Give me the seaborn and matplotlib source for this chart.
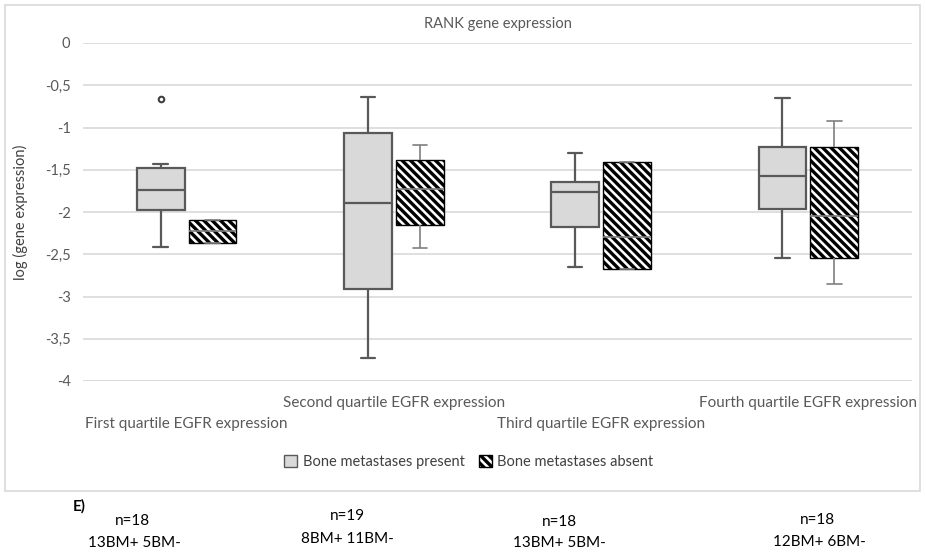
import numpy as np
import pandas as pd
import matplotlib
matplotlib.use("Agg")
import matplotlib.pyplot as plt
from matplotlib.patches import Patch, Rectangle
import seaborn as sns

# ---- data -------------------------------------------------------------
categories = ["First quartile EGFR expression", "Second quartile EGFR expression",
              "Third quartile EGFR expression", "Fourth quartile EGFR expression"]
groups = ["Bone metastases present", "Bone metastases absent"]

# five-number summaries per EGFR quartile (whisker low, Q1, median, Q3, whisker high)
present_lo = [-2.41, -3.73, -2.65, -2.54]
present_q1 = [-1.98, -2.91, -2.18, -1.97]
present_med = [-1.74, -1.89, -1.76, -1.57]
present_q3 = [-1.48, -1.07, -1.64, -1.23]
present_hi = [-1.43, -0.64, -1.30, -0.65]

absent_lo = [-2.37, -2.43, -2.67, -2.85]
absent_q1 = [-2.37, -2.15, -2.67, -2.55]
absent_med = [-2.22, -1.73, -2.30, -2.05]
absent_q3 = [-2.09, -1.39, -1.41, -1.23]
absent_hi = [-2.09, -1.21, -1.41, -0.92]

# outliers of the "present" group per quartile
present_outliers = [[-0.66], [], [], []]

yticks = [0, -0.5, -1, -1.5, -2, -2.5, -3, -3.5, -4]
ytick_labels = ["0", "-0,5", "-1", "-1,5", "-2", "-2,5", "-3", "-3,5", "-4"]

n_labels = ["n=18", "n=19", "n=18", "n=18"]
bm_labels = ["13BM+ 5BM-", "8BM+ 11BM-", "13BM+ 5BM-", "12BM+ 6BM-"]

# ---- long table: the five summary values of each box --------------------
summaries = {
    groups[0]: (present_lo, present_q1, present_med, present_q3, present_hi),
    groups[1]: (absent_lo, absent_q1, absent_med, absent_q3, absent_hi),
}
rows = []
for grp, cols in summaries.items():
    for i, cat in enumerate(categories):
        for v in (c[i] for c in cols):
            rows.append({"quartile": cat, "group": grp, "value": v})
df = pd.DataFrame(rows)

# ---- style --------------------------------------------------------------
sns.set_theme(style="white")
FONT = ["Lato", "DejaVu Sans"]
plt.rcParams["font.family"] = FONT
plt.rcParams["hatch.linewidth"] = 2.4

W, H = 926, 552
fig = plt.figure(figsize=(W / 100, H / 100), dpi=100)
ax = fig.add_axes([83 / W, 1 - 381 / H, (912 - 83) / W, (381 - 43) / H])

GRAY_FILL = "#d9d9d9"
EDGE = "#595959"
BOX_WIDTH = 0.5
HATCH = "\\\\\\\\"
palette = {groups[0]: GRAY_FILL, groups[1]: "white"}

sns.boxplot(data=df, x="quartile", y="value", hue="group",
            order=categories, hue_order=groups, palette=palette,
            saturation=1, width=BOX_WIDTH, gap=0.08, whis=(0, 100),
            linecolor=EDGE, linewidth=1.6, capwidths=0.07,
            legend=False, ax=ax, zorder=3)

# hatched boxes for the "absent" group
for p in ax.patches:
    fc = p.get_facecolor()
    if fc[0] > 0.95 and fc[1] > 0.95 and fc[2] > 0.95:
        p.set_hatch(HATCH)
        p.set_edgecolor("black")
        p.set_linewidth(1.0)

# thinner grey lines for the "absent" whiskers / medians
for ln in ax.lines:
    xd = np.asarray(ln.get_xdata(), dtype=float)
    if xd.size and (np.mean(xd) - np.round(np.mean(xd))) > 0:
        ln.set_color("#7f7f7f")
        ln.set_linewidth(1.2)

# outliers
offset = BOX_WIDTH / 4
for i, outs in enumerate(present_outliers):
    if outs:
        ax.scatter([i - offset] * len(outs), outs, s=16, facecolor="white",
                   edgecolor="#404040", linewidth=1.5, zorder=4)

# axes
ax.set_ylim(-4, 0)
ax.set_xlim(-0.5, len(categories) - 0.5)
ax.set_yticks(yticks)
ax.set_yticklabels(ytick_labels)
ax.yaxis.grid(True, color="#d9d9d9", linewidth=1.2, zorder=0)
ax.xaxis.grid(False)
for s in ax.spines.values():
    s.set_visible(False)
ax.axhline(-4, color="#d9d9d9", linewidth=1.2, zorder=1)
ax.tick_params(axis="y", length=0, pad=9, labelsize=10.5, labelcolor=EDGE)
ax.tick_params(axis="x", length=0, labelsize=11, labelcolor=EDGE)
ax.set_xlabel("")
ax.set_ylabel("log (gene expression)", fontsize=10.5, color="#404040", labelpad=12)
for i, tick in enumerate(ax.xaxis.get_major_ticks()):
    tick.set_pad(26 if i % 2 == 0 else 11)

ax.set_title("RANK gene expression", fontsize=10.5, color=EDGE, pad=11)

# legend
handles = [Patch(facecolor=GRAY_FILL, edgecolor=EDGE, linewidth=1.0),
           Patch(facecolor="white", edgecolor="black", hatch=HATCH, linewidth=1.0)]
fig.legend(handles, groups, loc="center", bbox_to_anchor=(469 / W, 1 - 462 / H),
           ncol=2, frameon=False, fontsize=10.5, handlelength=0.85,
           handleheight=0.85, handletextpad=0.4, columnspacing=1.0,
           labelcolor="#404040")

# chart frame
fig.patches.append(Rectangle((5 / W, 1 - 491 / H), 915 / W, 486 / H,
                             transform=fig.transFigure, fill=False,
                             edgecolor="#d9d9d9", linewidth=1.2))

# panel annotation below the chart
fig.text(73 / W, 1 - 506 / H, "E)", fontsize=11, fontweight="bold",
         va="center", ha="left", color="black")
n_pos = [(132, 521), (347, 516), (559, 522), (817, 520)]
bm_pos = [(134, 543), (347, 539), (559, 543), (819, 542)]
for txt, (x, y) in zip(n_labels, n_pos):
    fig.text(x / W, 1 - y / H, txt, fontsize=11, ha="center", va="center", color="black")
for txt, (x, y) in zip(bm_labels, bm_pos):
    fig.text(x / W, 1 - y / H, txt, fontsize=11, ha="center", va="center", color="black")

fig.savefig("out.png", dpi=100, facecolor="white")
